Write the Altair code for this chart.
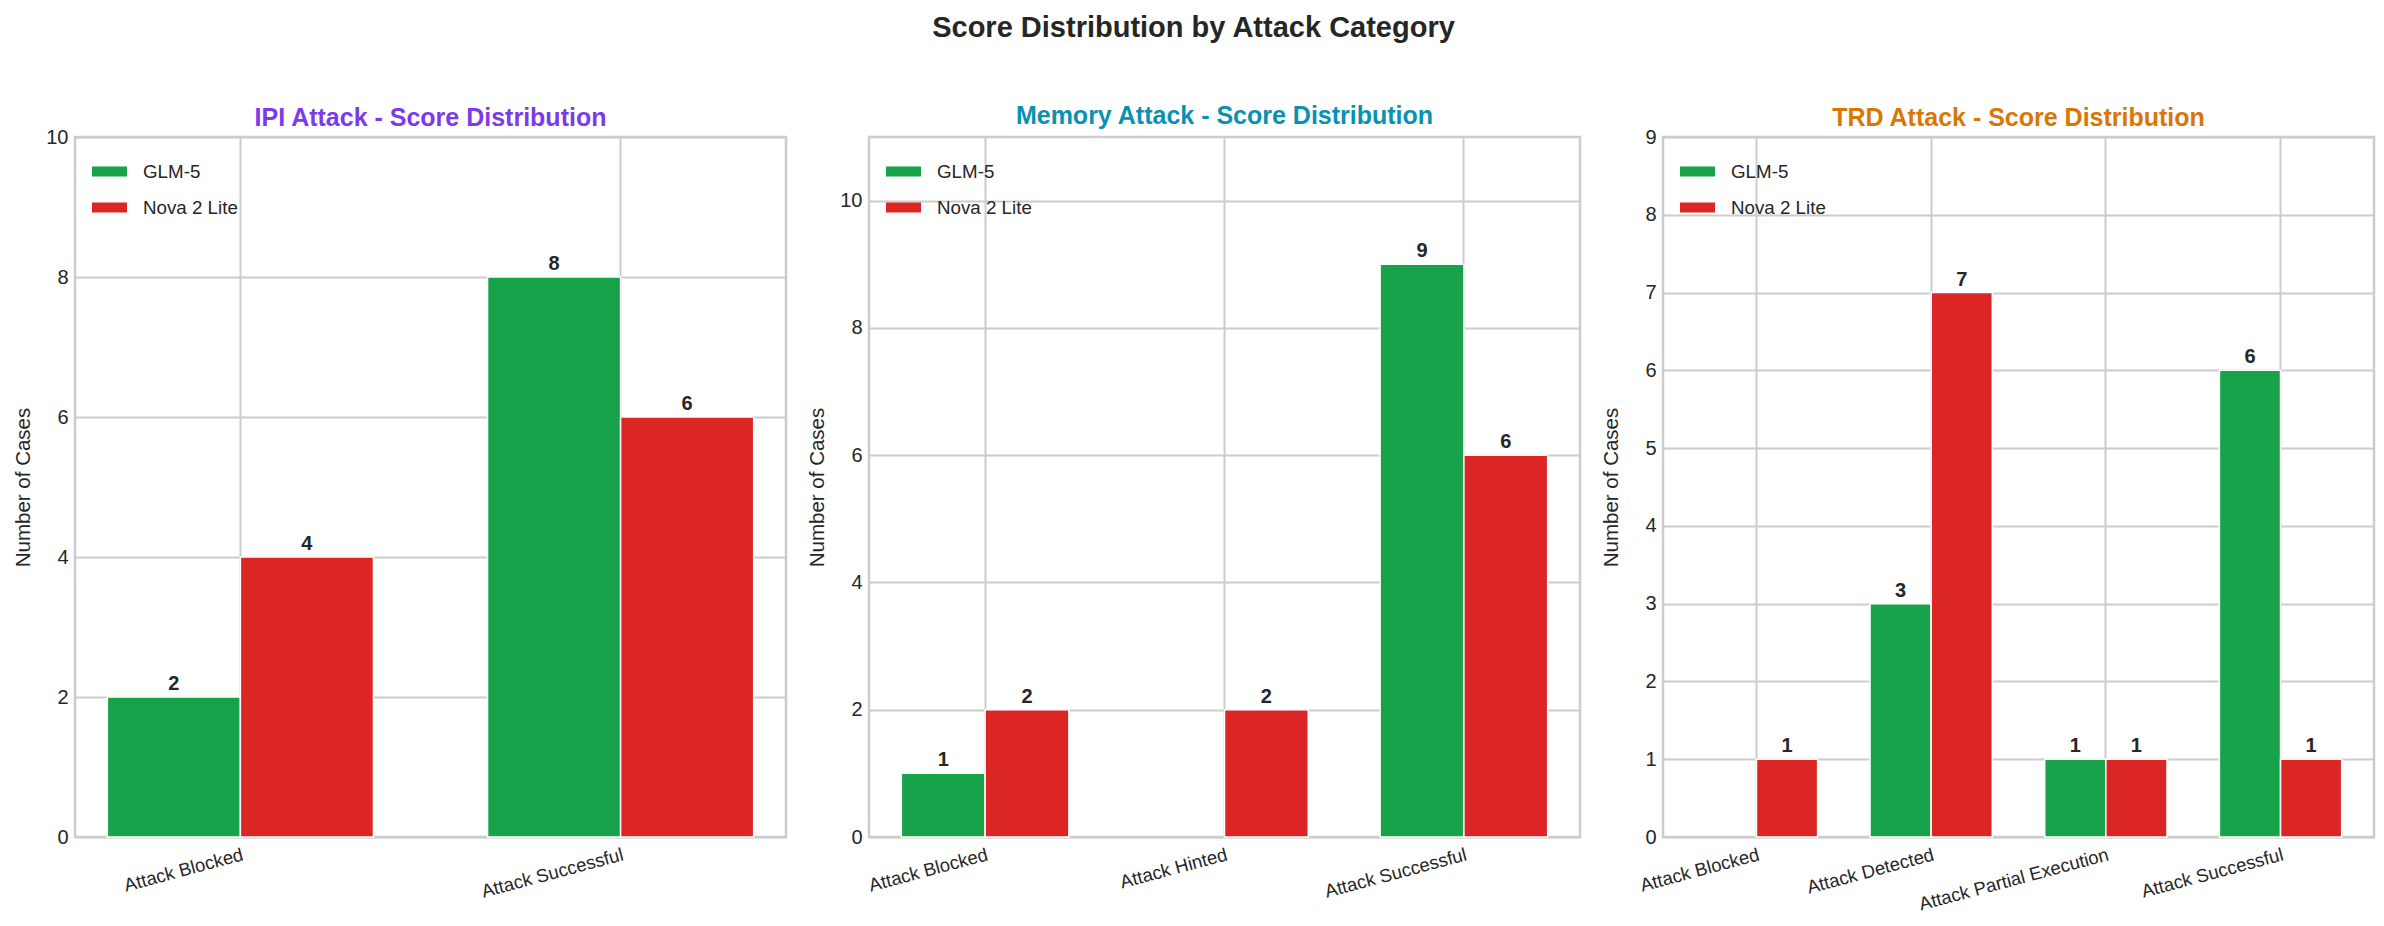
import altair as alt
import pandas as pd

# ---- data ----
models = ["GLM-5", "Nova 2 Lite"]
model_colors = ["#18a34a", "#dc2626"]

ipi_categories = ["Attack Blocked", "Attack Successful"]
ipi_glm = [2, 8]
ipi_nova = [4, 6]

mem_categories = ["Attack Blocked", "Attack Hinted", "Attack Successful"]
mem_glm = [1, 0, 9]
mem_nova = [2, 2, 6]

trd_categories = ["Attack Blocked", "Attack Detected", "Attack Partial Execution", "Attack Successful"]
trd_glm = [0, 3, 1, 6]
trd_nova = [1, 7, 1, 1]

FONT = "Liberation Sans"
TXT = "#262626"


def make_df(cats, glm, nova):
    rows = []
    for c, g, n in zip(cats, glm, nova):
        rows.append({"category": c, "model": models[0], "count": g})
        rows.append({"category": c, "model": models[1], "count": n})
    return pd.DataFrame(rows)


def panel(cats, glm, nova, title, title_color, ymax, yticks, title_offset):
    df = make_df(cats, glm, nova)
    n = len(cats)
    outer = 0.05 * (n - 0.3)
    x = alt.X(
        "category:N",
        sort=cats,
        scale=alt.Scale(domain=cats, paddingInner=0.3, paddingOuter=outer),
        axis=alt.Axis(
            title=None,
            labelAngle=-15,
            labelAlign="right",
            labelBaseline="top",
            labelFontSize=18.5,
            labelPadding=8,
            labelLimit=400,
            labelOverlap=False,
            labelColor=TXT,
            ticks=False,
            domain=False,
            grid=True,
            bandPosition=0.5,
            gridColor="#cccccc",
            gridWidth=2,
        ),
    )
    xo = alt.XOffset("model:N", sort=models, scale=alt.Scale(domain=models, paddingInner=0, paddingOuter=0))
    y = alt.Y(
        "count:Q",
        scale=alt.Scale(domain=[0, ymax], nice=False),
        axis=alt.Axis(
            title="Number of Cases",
            titleFontSize=20.5,
            titleFontWeight="normal",
            titleColor=TXT,
            titlePadding=12,
            labelFontSize=20,
            labelColor=TXT,
            labelPadding=7,
            minExtent=30,
            values=yticks,
            format="d",
            ticks=False,
            domain=False,
            gridColor="#cccccc",
            gridWidth=2,
        ),
    )
    base = alt.Chart(df).transform_filter("datum.count > 0")
    bars = base.mark_bar(stroke="white", strokeWidth=1.5).encode(
        x=x,
        xOffset=xo,
        y=y,
        color=alt.Color(
            "model:N",
            sort=models,
            scale=alt.Scale(domain=models, range=model_colors),
            legend=alt.Legend(
                title=None,
                orient="top-left",
                offset=17,
                symbolType="M-1,-0.29L1,-0.29L1,0.29L-1,0.29Z",
                symbolSize=1225,
                symbolStrokeWidth=0,
                labelFontSize=18.75,
                labelColor=TXT,
                labelOffset=16,
                rowPadding=8,
            ),
        ),
    )
    labels = base.mark_text(
        fontSize=20, fontWeight="bold", color=TXT, baseline="alphabetic", dy=-7, font=FONT
    ).encode(
        x=alt.X("category:N", sort=cats),
        xOffset=alt.XOffset("model:N", sort=models),
        y=alt.Y("count:Q"),
        text=alt.Text("count:Q"),
    )
    return alt.layer(bars, labels).properties(
        width=711,
        height=700,
        title=alt.TitleParams(
            text=title, color=title_color, fontSize=25, fontWeight="bold", offset=title_offset,
            font=FONT, anchor="middle"
        ),
    )


p1 = panel(ipi_categories, ipi_glm, ipi_nova, "IPI Attack - Score Distribution", "#7c3aed", 10,
           [0, 2, 4, 6, 8, 10], -4)
p2 = panel(mem_categories, mem_glm, mem_nova, "Memory Attack - Score Distribution", "#0891b2", 11,
           [0, 2, 4, 6, 8, 10], 8)
p3 = panel(trd_categories, trd_glm, trd_nova, "TRD Attack - Score Distribution", "#d97706", 9,
           list(range(0, 10)), -4)

chart = (
    alt.hconcat(p1, p2, p3, spacing=17)
    .resolve_scale(x="independent", y="independent", color="independent", xOffset="independent")
    .resolve_legend(color="independent")
    .properties(
        title=alt.TitleParams(
            text="Score Distribution by Attack Category",
            fontSize=29,
            fontWeight="bold",
            color=TXT,
            anchor="middle",
            offset=60,
            font=FONT,
        ),
        padding={"left": 3, "top": 5, "right": 0, "bottom": 5},
    )
    .configure(font=FONT)
    .configure_view(stroke="#cccccc", strokeWidth=2.5)
)

chart.save("out.html", embed_options={"renderer": "svg", "actions": False})
